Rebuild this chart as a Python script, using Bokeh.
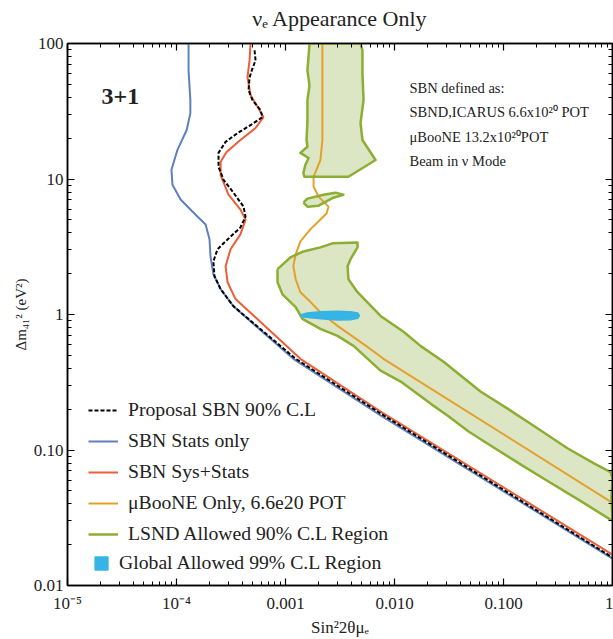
import math
from bokeh.plotting import figure
from bokeh.models import (LogAxis, FixedTicker, CustomJSTickFormatter, Legend,
                          LegendItem, Label)
from bokeh.embed import file_html
from bokeh.resources import INLINE

FONT = "Liberation Serif"

# ---------------- axes / ticks ----------------
title_text = "\u03bd\u2091 Appearance Only"
x_title = "Sin\u00b22\u03b8\u03bc\u2091"
y_title = "\u0394m\u2084\u2081\u00b2 (eV\u00b2)"
x_major = [1e-5, 1e-4, 1e-3, 1e-2, 1e-1, 1.0]
x_tick_labels = ["10\u207b\u2075", "10\u207b\u2074", "0.001", "0.010", "0.100", "1"]
y_major = [0.01, 0.1, 1.0, 10.0, 100.0]
y_tick_labels = ["0.01", "0.10", "1", "10", "100"]
x_minor = [m * 10.0 ** e for e in range(-5, 0) for m in range(2, 10)]
y_minor = [m * 10.0 ** e for e in range(-2, 2) for m in range(2, 10)]

# ---------------- data ----------------
# Proposal SBN 90% C.L (black dashed)
prop_x = [5.20e-4, 5.31e-4, 4.98e-4, 4.68e-4, 4.58e-4, 4.98e-4, 5.90e-4, 6.15e-4, 4.78e-4,
          3.63e-4, 2.82e-4, 2.43e-4, 2.43e-4, 2.70e-4, 3.33e-4, 4.12e-4, 4.30e-4, 3.86e-4,
          2.94e-4, 2.38e-4, 2.18e-4, 2.23e-4, 2.54e-4, 3.33e-4, 1.24e-3, 7.45e-3, 1.0]
prop_y = [88.9, 75.0, 65.6, 56.2, 45.2, 38.2, 32.2, 28.6, 25.0,
          21.8, 18.8, 15.6, 12.3, 9.87, 7.93, 6.25, 5.28, 4.39,
          3.58, 3.03, 2.47, 1.92, 1.54, 1.15, 0.471, 0.186, 0.0161]

# SBN Stats only (blue)
stat_x = [1.29e-4, 1.29e-4, 1.34e-4, 1.34e-4, 1.24e-4, 1.02e-4, 8.99e-5, 9.18e-5, 1.09e-4,
          1.49e-4, 1.85e-4, 2.01e-4, 2.05e-4, 2.18e-4, 2.54e-4, 3.33e-4, 1.18e-3, 7.45e-3, 1.0]
stat_y = [100, 63.4, 38.2, 30.6, 23.0, 16.4, 11.7, 9.08, 7.05,
          5.47, 4.62, 3.58, 2.69, 1.98, 1.54, 1.15, 0.471, 0.180, 0.0158]

# SBN Sys+Stats (red)
sys_x = [4.78e-4, 4.68e-4, 4.48e-4, 4.78e-4, 5.65e-4, 6.28e-4, 5.31e-4, 3.86e-4, 2.88e-4,
         2.54e-4, 2.54e-4, 3.00e-4, 3.86e-4, 4.30e-4, 3.86e-4, 3.13e-4, 2.82e-4, 2.94e-4,
         3.48e-4, 5.90e-4, 1.37e-3, 7.45e-3, 1.0]
sys_y = [100, 75.0, 56.2, 41.5, 33.3, 28.6, 23.8, 19.4, 15.8,
         13.4, 10.7, 7.66, 5.94, 5.02, 3.90, 3.03, 2.27, 1.73,
         1.30, 0.881, 0.471, 0.192, 0.0169]

# muBooNE only (orange)
uboone_x = [2.18e-3, 2.18e-3, 2.18e-3, 2.09e-3, 1.81e-3, 1.81e-3, 2.01e-3, 2.48e-3, 2.38e-3,
            2.09e-3, 1.69e-3, 1.37e-3, 1.24e-3, 1.18e-3, 1.24e-3, 1.37e-3, 1.69e-3, 2.09e-3,
            3.00e-3, 5.65e-3, 7.92e-3, 1.0]
uboone_y = [100, 38.2, 19.4, 13.8, 10.4, 8.77, 7.41, 6.25, 5.56,
            5.02, 4.25, 3.46, 2.78, 2.27, 1.82, 1.46, 1.24, 1.04,
            0.824, 0.577, 0.471, 0.0407]

# LSND allowed 90% C.L region (three islands)
lsnd_top_x = [1.66e-3, 1.63e-3, 1.59e-3, 1.66e-3, 1.59e-3, 1.59e-3, 1.56e-3, 1.59e-3, 1.37e-3,
              1.63e-3, 1.52e-3, 1.46e-3, 1.49e-3, 1.88e-3, 3.78e-3, 6.70e-3, 5.08e-3, 4.88e-3,
              5.20e-3, 5.08e-3, 5.08e-3, 4.88e-3]
lsnd_top_y = [100, 81.7, 63.4, 49.2, 38.2, 27.2, 19.4, 17.3, 15.6,
              14.3, 12.7, 11.1, 10.4, 10.4, 10.4, 13.8, 19.4, 25.9,
              38.2, 60.2, 88.9, 100]
lsnd_mid_x = [1.46e-3, 1.59e-3, 2.23e-3, 2.88e-3, 3.40e-3, 2.75e-3, 2.01e-3, 1.59e-3]
lsnd_mid_y = [6.69, 7.16, 7.66, 7.93, 7.66, 7.28, 6.36, 6.25]
lsnd_low_x = [8.45e-4, 1.11e-3, 1.46e-3, 2.09e-3, 2.70e-3, 4.58e-3, 4.58e-3, 3.94e-3, 3.71e-3,
              3.78e-3, 4.58e-3, 7.45e-3, 1.21e-2, 1.73e-2, 2.82e-2, 6.15e-2, 0.109, 0.218,
              0.386, 0.670, 0.959, 1.0, 0.979, 1.0, 0.508, 0.254, 0.152, 7.60e-2, 4.78e-2,
              3.06e-2, 2.14e-2, 1.14e-2, 7.45e-3, 4.21e-3, 3.00e-3, 2.09e-3, 1.43e-3, 1.24e-3,
              9.38e-4, 8.45e-4]
lsnd_low_y = [2.16, 2.64, 2.92, 3.13, 3.35, 3.40, 3.13, 2.55, 2.27,
              1.82, 1.46, 0.975, 0.745, 0.587, 0.448, 0.270, 0.202, 0.140,
              0.103, 0.080, 0.0687, 0.0621, 0.0443, 0.0300, 0.0421, 0.0590, 0.0760, 0.108, 0.137,
              0.180, 0.220, 0.320, 0.385, 0.587, 0.695, 0.783, 0.927, 1.135,
              1.41, 1.73]

# Global allowed 99% C.L region (cyan)
glob_x = [1.37e-3, 1.58e-3, 2.09e-3, 2.98e-3, 3.94e-3, 4.60e-3, 4.77e-3, 4.60e-3, 3.94e-3,
          2.98e-3, 2.24e-3, 1.69e-3, 1.42e-3]
glob_y = [0.991, 1.026, 1.049, 1.055, 1.049, 1.026, 0.980, 0.938, 0.916,
          0.912, 0.927, 0.948, 0.964]

legend_labels = ["Proposal SBN 90% C.L", "SBN Stats only", "SBN Sys+Stats",
                 "\u03bcBooNE Only, 6.6e20 POT", "LSND Allowed 90% C.L Region",
                 "Global Allowed 99% C.L Region"]
info_lines = ["SBN defined as:", "SBND,ICARUS 6.6x10\u00b2\u2070 POT",
              "\u03bcBooNE 13.2x10\u00b2\u2070POT", "Beam in \u03bd Mode"]

# ---------------- colours ----------------
C_BLUE = "#5e81be"
C_RED = "#ea5e38"
C_ORANGE = "#e3a12c"
C_GREEN = "#8cae32"
C_FILL = "#dde6c4"
C_CYAN = "#35b4e5"
C_TEXT = "#222222"

p = figure(width=613, height=639, x_axis_type="log", y_axis_type="log",
           x_range=(1e-5, 1), y_range=(0.01, 100), title=None,
           output_backend="svg", toolbar_location=None,
           min_border_left=67, min_border_right=1, min_border_top=43, min_border_bottom=51)

p.xgrid.visible = False
p.ygrid.visible = False
p.outline_line_color = "black"
p.outline_line_width = 1.5

xt = FixedTicker(ticks=x_major, minor_ticks=x_minor)
yt = FixedTicker(ticks=y_major, minor_ticks=y_minor)
code = """
for (let k = 0; k < vals.length; k++) {
  if (Math.abs(Math.log10(tick) - Math.log10(vals[k])) < 1e-6) return labels[k];
}
return '';
"""
xfmt = CustomJSTickFormatter(args=dict(vals=x_major, labels=x_tick_labels), code=code)
yfmt = CustomJSTickFormatter(args=dict(vals=y_major, labels=y_tick_labels), code=code)
blank = CustomJSTickFormatter(code="return '';")

def style_axis(ax, show_labels):
    ax.axis_line_color = "black"
    ax.axis_line_width = 1.5
    ax.major_tick_in = 7
    ax.major_tick_out = 0
    ax.minor_tick_in = 4
    ax.minor_tick_out = 0
    ax.major_tick_line_color = "black"
    ax.minor_tick_line_color = "black"
    ax.major_tick_line_width = 1.2
    ax.minor_tick_line_width = 1
    ax.major_label_text_font = FONT
    ax.major_label_text_font_size = "17px" if show_labels else "0px"
    ax.major_label_text_color = C_TEXT
    ax.axis_label_text_font = FONT
    ax.axis_label_text_font_style = "normal"
    ax.axis_label_text_color = C_TEXT

p.xaxis.ticker = xt
p.xaxis.formatter = xfmt
p.yaxis.ticker = yt
p.yaxis.formatter = yfmt
for ax in p.xaxis:
    style_axis(ax, True)
    ax.major_label_standoff = 8
    ax.axis_label = x_title
    ax.axis_label_text_font_size = "17px"
    ax.axis_label_standoff = 2
for ax in p.yaxis:
    style_axis(ax, True)
    ax.major_label_standoff = 4
    ax.axis_label = y_title
    ax.axis_label_text_font_size = "15px"
    ax.axis_label_standoff = 2

# top axis carries the chart title as its label
top_ax = LogAxis(ticker=xt, formatter=blank)
style_axis(top_ax, False)
top_ax.major_label_standoff = 0
top_ax.axis_label = title_text
top_ax.axis_label_text_font_size = "22px"
top_ax.axis_label_standoff = 13
right_ax = LogAxis(ticker=yt, formatter=blank)
style_axis(right_ax, False)
right_ax.major_label_standoff = 0
p.add_layout(top_ax, "above")
p.add_layout(right_ax, "right")

# ---------------- glyphs ----------------
p.patches([lsnd_top_x, lsnd_mid_x, lsnd_low_x], [lsnd_top_y, lsnd_mid_y, lsnd_low_y],
          fill_color=C_FILL, line_color=None)
r_ub = p.line(uboone_x, uboone_y, line_color=C_ORANGE, line_width=2)
r_lsnd = p.multi_line([lsnd_top_x + lsnd_top_x[:1], lsnd_mid_x + lsnd_mid_x[:1],
                       lsnd_low_x + lsnd_low_x[:1]],
                      [lsnd_top_y + lsnd_top_y[:1], lsnd_mid_y + lsnd_mid_y[:1],
                       lsnd_low_y + lsnd_low_y[:1]],
                      line_color=C_GREEN, line_width=2.5, line_join="round")
r_stat = p.line(stat_x, stat_y, line_color=C_BLUE, line_width=2)
r_sys = p.line(sys_x, sys_y, line_color=C_RED, line_width=2)
r_prop = p.line(prop_x, prop_y, line_color="black", line_width=2, line_dash="4 2")
r_glob = p.patch(glob_x, glob_y, fill_color=C_CYAN, line_color=C_CYAN, line_width=1.5)

def make_legend(items, loc, gw, gh, standoff, spacing):
    lg = Legend(items=items, location=loc)
    lg.label_text_font = FONT
    lg.label_text_font_size = "19.7px"
    lg.label_text_color = C_TEXT
    lg.glyph_width = gw
    lg.glyph_height = gh
    lg.label_standoff = standoff
    lg.spacing = spacing
    lg.padding = 8
    lg.margin = 0
    lg.border_line_color = None
    lg.background_fill_alpha = 0
    p.add_layout(lg)
    return lg

make_legend([
    LegendItem(label=legend_labels[0], renderers=[r_prop]),
    LegendItem(label=legend_labels[1], renderers=[r_stat]),
    LegendItem(label=legend_labels[2], renderers=[r_sys]),
    LegendItem(label=legend_labels[3], renderers=[r_ub]),
    LegendItem(label=legend_labels[4], renderers=[r_lsnd]),
], (21, 40), 30, 20, 10, 8)
make_legend([LegendItem(label=legend_labels[5], renderers=[r_glob])], (26, 11), 16, 16, 10, 8)

# ---------------- texts inside the frame ----------------
def add_label(text, x, y, size, style="normal"):
    p.add_layout(Label(text=text, x=x, y=y, x_units="screen", y_units="screen",
                       text_font=FONT, text_font_size=size, text_align="left",
                       text_baseline="middle", text_font_style=style,
                       text_color=C_TEXT))

add_label("3+1", 34, 489, "24px", style="bold")
for i, t in enumerate(info_lines):
    add_label(t, 342, 497.5 - i * 24.3, "14.5px")

open("out.html", "w").write(file_html(p, INLINE))
